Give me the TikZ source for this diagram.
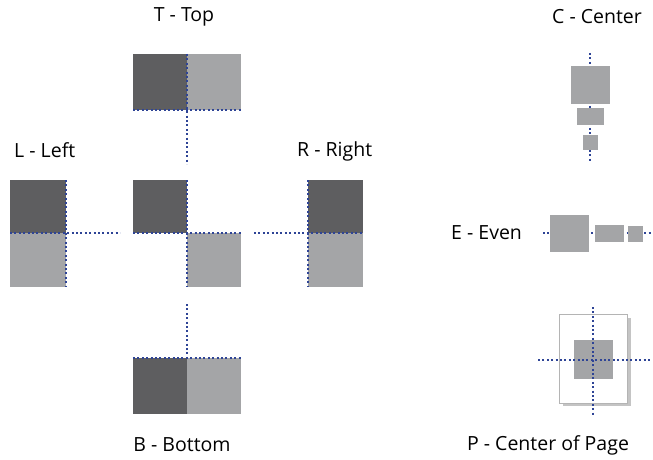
\documentclass[tikz,border=0pt]{standalone}
\usepackage{fontspec}
\setmainfont{Open Sans}
\usepackage{tikz}
\usetikzlibrary{positioning}
\definecolor{boxdark}{HTML}{5E5E60}
\definecolor{boxlight}{HTML}{A4A5A7}
\definecolor{guideblue}{HTML}{2E4496}
\definecolor{pageedge}{HTML}{B4B4B4}
\definecolor{pageshade}{HTML}{C4C4C4}
\tikzset{
  darkbox/.style={fill=boxdark,inner sep=0pt,outer sep=0pt},
  lightbox/.style={fill=boxlight,inner sep=0pt,outer sep=0pt},
  guide/.style={draw=guideblue,line width=2.2pt,dash pattern=on 2pt off 2.4pt},
  lbl/.style={font=\fontsize{19.5}{22}\selectfont,text=black,inner sep=0pt},
}

\begin{document}
\begin{tikzpicture}[x=1pt,y=-1pt]
    \useasboundingbox (0,0) rectangle (653,460);
    % T - Top
    \node[lbl] (ttop) at (184,17) {T - Top};
    \node[darkbox,minimum width=54pt,minimum height=56pt,anchor=north west] (td) at (133,54) {};
    \node[lightbox,minimum width=54pt,minimum height=56pt,right=0pt of td] (tl) {};
    \coordinate (tend) at (187,164);
    \draw[guide] (td.south west)--(tl.south east);\draw[guide] (td.north east)--(tend);
    % L - Left
    \node[lbl,anchor=west] (lleft) at (14,150) {L - Left};
    \node[darkbox,minimum width=56pt,minimum height=53pt,anchor=north west] (ld) at (10,180) {};
    \node[lightbox,minimum width=56pt,minimum height=54pt,below=0pt of ld] (ll) {};
    \coordinate (lend) at (120,233);
    \draw[guide] (ld.north east)--(ll.south east);\draw[guide] (ld.south west)--(lend);
    % center
    \node[darkbox,minimum width=54pt,minimum height=53pt,anchor=north west] (cd) at (133,180) {};
    \node[lightbox,minimum width=54pt,minimum height=54pt,anchor=north west] (cl) at (cd.south east) {};
    \draw[guide] (cd.south west)--(cl.north east);\draw[guide] (cd.north east)--(cl.south west);
    % R - Right
    \node[lbl,anchor=west] (rright) at (297,151) {R - Right};
    \node[darkbox,minimum width=55pt,minimum height=53pt,anchor=north west] (rd) at (308,180) {};
    \node[lightbox,minimum width=55pt,minimum height=54pt,below=0pt of rd] (rl) {};
    \coordinate (rstart) at (254,233);
    \draw[guide] (rd.north west)--(rl.south west);\draw[guide] (rstart)--(rd.south east);
    % B - Bottom
    \node[lbl] (bbottom) at (182,445) {B - Bottom};
    \node[darkbox,minimum width=54pt,minimum height=56pt,anchor=north west] (bd) at (133,358) {};
    \node[lightbox,minimum width=54pt,minimum height=56pt,right=0pt of bd] (bl) {};
    \coordinate (bstart) at (187,304);
    \draw[guide] (bd.north west)--(bl.north east);\draw[guide] (bstart)--(bd.north east);
    % C - Center
    \node[lbl] (ccenter) at (597,17) {C - Center};
    \coordinate (ctop) at (590,53);\coordinate (cbot) at (590,162);
    \draw[guide] (ctop)--(cbot);
    \node[lightbox,minimum width=39pt,minimum height=38pt] (cbig) at (590,85) {};
    \node[lightbox,minimum width=27pt,minimum height=17pt] (cmid) at (590,116.5) {};
    \node[lightbox,minimum width=15pt,minimum height=15pt] (csmall) at (590,142.5) {};
    % E - Even
    \node[lbl,anchor=west] (eeven) at (451,233) {E - Even};
    \coordinate (estart) at (543,233);\coordinate (eend) at (653,233);
    \draw[guide] (estart)--(eend);
    \node[lightbox,minimum width=39pt,minimum height=37pt] (ebig) at (569.5,233.5) {};
    \node[lightbox,minimum width=29pt,minimum height=17pt] (emid) at (609.5,233.5) {};
    \node[lightbox,minimum width=15pt,minimum height=16pt] (esmall) at (635.5,234) {};
    % P - Center of Page
    \node[lbl] (ppage) at (548,445) {P - Center of Page};
    \node[fill=pageshade,minimum width=68pt,minimum height=88pt,inner sep=0pt] (pshade) at (597,362) {};
    \node[draw=pageedge,fill=white,line width=.8pt,minimum width=68pt,minimum height=89pt,inner sep=0pt] (psheet) at (593,358.5) {};
    \node[lightbox,minimum width=39pt,minimum height=39pt] (pbox) at (593.5,359.5) {};
    \coordinate (ptop) at (593,307);\coordinate (pbot) at (593,416);
    \coordinate (pleft) at (538,360);\coordinate (pright) at (650,360);
    \draw[guide] (ptop)--(pbot);\draw[guide] (pleft)--(pright);
\end{tikzpicture}
\end{document}
